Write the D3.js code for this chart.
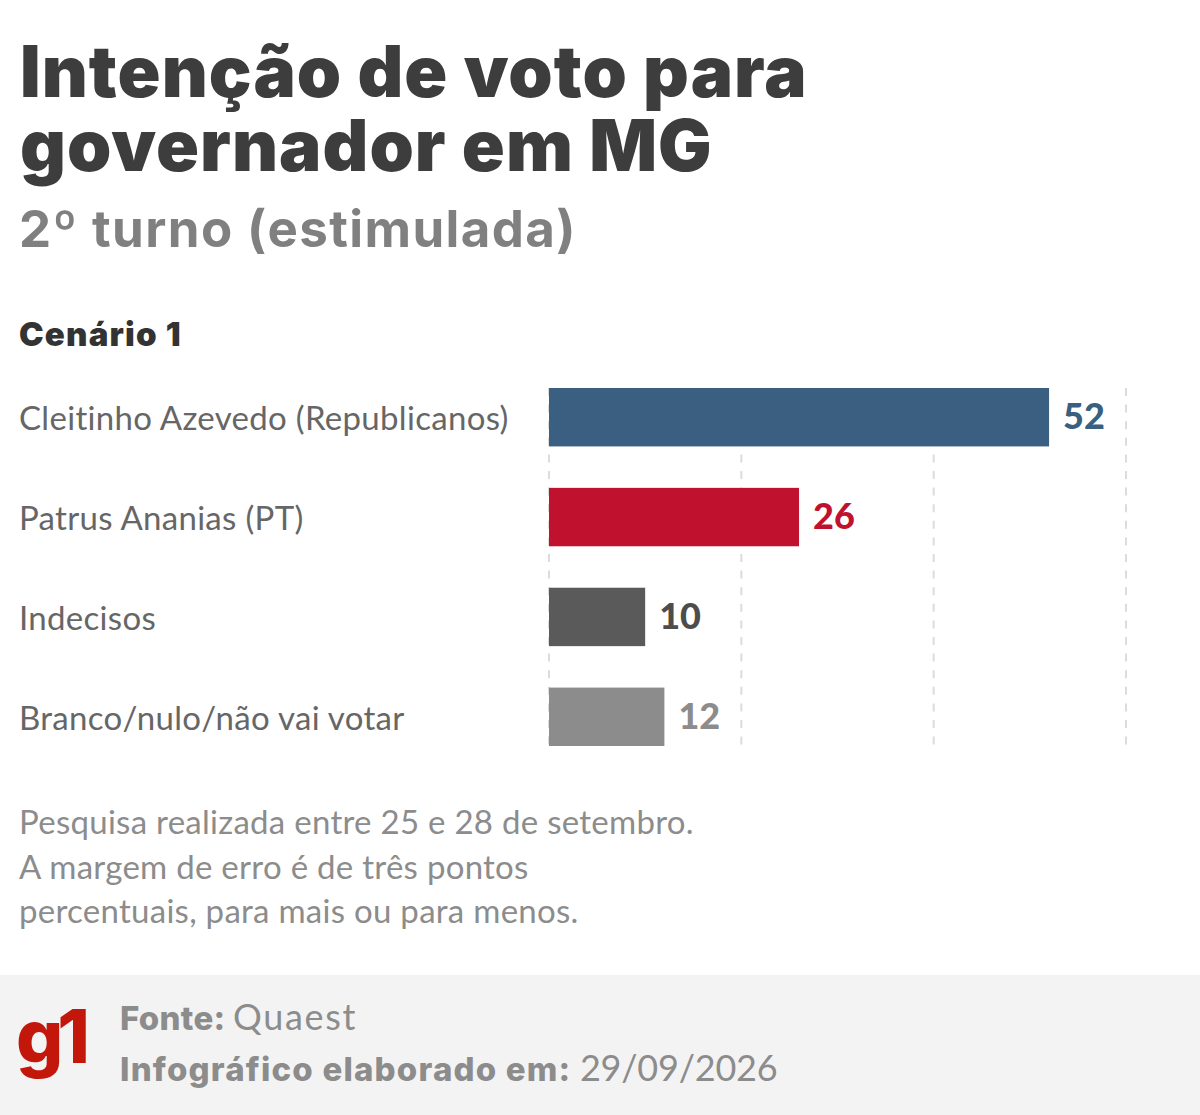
<!DOCTYPE html>
<html><head><meta charset="utf-8">
<script src="https://cdn.jsdelivr.net/npm/d3@7"></script>
<style>html,body{margin:0;padding:0;background:#fff}svg{display:block}text{font-family:Lato,"Noto Sans",sans-serif}.h{font-family:Inter,Lato,sans-serif}</style>
</head><body><div id="c"></div>
<script>
const categories=["Cleitinho Azevedo (Republicanos)","Patrus Ananias (PT)","Indecisos","Branco/nulo/não vai votar"];
const values=[52,26,10,12];
const barColors=["#3a5f80","#c0122f","#5a5a5a","#8c8c8c"];
const labelColors=["#3a5f80","#c0122f","#4d4d4d","#8c8c8c"];
const ticks=[0,20,40,60];
const titleLines=["Intenção de voto para","governador em MG"];
const subtitle="2º turno (estimulada)";
const scenario="Cenário 1";
const noteLines=["Pesquisa realizada entre 25 e 28 de setembro.","A margem de erro é de três pontos","percentuais, para mais ou para menos."];

const svg=d3.select("#c").append("svg").attr("width",1200).attr("height",1115);
const x=d3.scaleLinear().domain([0,60]).range([549,1126]);
const y=d3.scaleBand().domain(categories).range([388,746]).paddingInner(0.415).paddingOuter(0);

svg.selectAll(".t").data(titleLines).join("text").attr("class","h").attr("x",20).attr("y",(d,i)=>97+i*74)
  .attr("font-size",71).attr("font-weight",900).attr("letter-spacing",1.05).attr("fill","#3d3d3d").text(d=>d);
svg.append("text").attr("class","h").attr("x",19).attr("y",247).attr("font-size",51).attr("font-weight",700).attr("letter-spacing",1.4).attr("fill","#808080").text(subtitle);
svg.append("text").attr("class","h").attr("x",19).attr("y",346).attr("font-size",33).attr("font-weight",900).attr("letter-spacing",1.2).attr("fill","#333").text(scenario);

svg.selectAll(".g").data(ticks).join("line").attr("x1",d=>x(d)).attr("x2",d=>x(d)).attr("y1",388).attr("y2",745)
  .attr("stroke","#dcdcdc").attr("stroke-width",2).attr("stroke-dasharray","8 8.6");
svg.selectAll(".b").data(values).join("rect").attr("x",x(0)).attr("y",(d,i)=>y(categories[i]))
  .attr("width",d=>x(d)-x(0)).attr("height",y.bandwidth()).attr("fill",(d,i)=>barColors[i]);
svg.selectAll(".v").data(values).join("text").attr("x",d=>x(d)+14).attr("y",(d,i)=>y(categories[i])+y.bandwidth()/2+12)
  .attr("font-size",36).attr("font-weight",900).attr("fill",(d,i)=>labelColors[i]).text(d=>d);
svg.selectAll(".c").data(categories).join("text").attr("x",19).attr("y",d=>y(d)+y.bandwidth()/2+13)
  .attr("font-size",33).attr("letter-spacing",0.3).attr("fill","#666").text(d=>d);
svg.selectAll(".n").data(noteLines).join("text").attr("x",19).attr("y",(d,i)=>834+i*44.5)
  .attr("font-size",33).attr("letter-spacing",0.27).attr("fill","#8c8c8c").text(d=>d);

svg.append("rect").attr("x",0).attr("y",975).attr("width",1200).attr("height",140).attr("fill","#f3f3f3");
svg.append("text").attr("class","h").attr("x",16).attr("y",1063).attr("font-size",74).attr("font-weight",800).attr("letter-spacing",-6).attr("fill","#c4170c").text("g1");
const f1=svg.append("text").attr("x",120).attr("y",1030).attr("font-size",36).attr("fill","#8c8c8c");
f1.append("tspan").attr("class","h").attr("font-size",33).attr("font-weight",800).attr("letter-spacing",0.3).text("Fonte: ");
f1.append("tspan").attr("letter-spacing",1.7).text("Quaest");
const f2=svg.append("text").attr("x",120).attr("y",1081).attr("font-size",36).attr("fill","#8c8c8c");
f2.append("tspan").attr("class","h").attr("font-size",33).attr("font-weight",800).attr("letter-spacing",1.2).text("Infográfico elaborado em: ");
f2.append("tspan").attr("letter-spacing",-0.2).text("29/09/2026");
</script></body></html>
